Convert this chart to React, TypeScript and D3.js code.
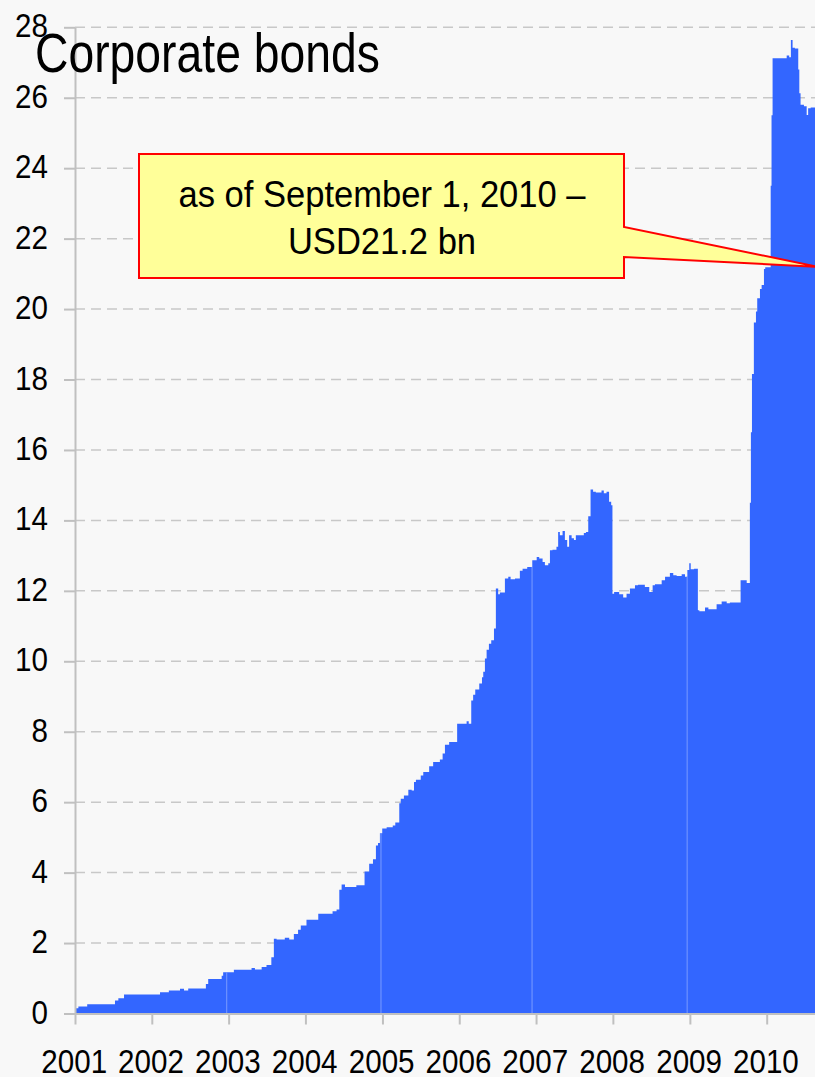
import React, { useEffect, useRef } from 'react';
import * as d3 from 'd3';

// Corporate bonds outstanding, USD bn (step series)

const dates = [
  '2001-01-01', '2001-01-17', '2001-02-28', '2001-07-10', '2001-07-26', '2001-08-22',
  '2002-02-09', '2002-03-23', '2002-05-15', '2002-06-03', '2002-06-23', '2002-09-15',
  '2002-09-26', '2002-11-29', '2002-12-06', '2003-01-26', '2003-04-20', '2003-05-06',
  '2003-06-07', '2003-06-30', '2003-07-23', '2003-08-04', '2003-08-17', '2003-09-25',
  '2003-10-16', '2003-11-07', '2003-11-27', '2003-12-10', '2004-01-06', '2004-03-02',
  '2004-05-09', '2004-05-28', '2004-06-10', '2004-06-21', '2004-07-07', '2004-08-30',
  '2004-10-08', '2004-10-30', '2004-11-17', '2004-12-01', '2004-12-11', '2004-12-20',
  '2004-12-31', '2005-01-21', '2005-02-19', '2005-03-03', '2005-03-22', '2005-03-29',
  '2005-04-13', '2005-05-04', '2005-05-20', '2005-05-31', '2005-06-09', '2005-07-02',
  '2005-07-14', '2005-08-11', '2005-08-30', '2005-10-01', '2005-10-14', '2005-10-25',
  '2005-11-14', '2005-12-22', '2006-02-05', '2006-02-15', '2006-02-27', '2006-03-08',
  '2006-03-18', '2006-04-06', '2006-04-19', '2006-04-25', '2006-05-03', '2006-05-11',
  '2006-05-22', '2006-06-02', '2006-06-15', '2006-06-24', '2006-07-05', '2006-07-13',
  '2006-08-06', '2006-08-22', '2006-09-02', '2006-09-23', '2006-10-16', '2006-10-29',
  '2006-11-20', '2006-12-14', '2007-01-04', '2007-01-16', '2007-02-01', '2007-02-12',
  '2007-02-28', '2007-03-08', '2007-03-20', '2007-04-08', '2007-04-16', '2007-04-24',
  '2007-05-07', '2007-05-18', '2007-05-29', '2007-06-07', '2007-06-19', '2007-06-30',
  '2007-07-09', '2007-08-16', '2007-08-26', '2007-09-06', '2007-09-17', '2007-09-29',
  '2007-10-12', '2007-11-08', '2007-11-19', '2007-12-02', '2007-12-14', '2007-12-24',
  '2007-12-30', '2008-01-07', '2008-01-31', '2008-02-19', '2008-03-06', '2008-03-22',
  '2008-04-15', '2008-04-30', '2008-06-01', '2008-06-22', '2008-07-08', '2008-07-19',
  '2008-08-20', '2008-09-05', '2008-09-28', '2008-10-14', '2008-10-30', '2008-11-23',
  '2008-12-09', '2008-12-20', '2008-12-29', '2009-01-05', '2009-01-21', '2009-02-08',
  '2009-02-15', '2009-03-14', '2009-03-30', '2009-05-08', '2009-06-01', '2009-06-25',
  '2009-07-10', '2009-08-30', '2009-09-28', '2009-10-13', '2009-10-18', '2009-10-23',
  '2009-11-01', '2009-11-11', '2009-11-17', '2009-11-30', '2009-12-08', '2009-12-19',
  '2009-12-25', '2010-01-20', '2010-01-24', '2010-01-29', '2010-04-06', '2010-04-18',
  '2010-04-26', '2010-05-04', '2010-05-15', '2010-05-31', '2010-06-05', '2010-06-11',
  '2010-06-27', '2010-07-10', '2010-07-17', '2010-07-29', '2010-09-01',
];

const values = [
  0.15, 0.2, 0.26, 0.37, 0.43, 0.54,
  0.6, 0.65, 0.7, 0.65, 0.71, 0.84,
  0.98, 1.07, 1.17, 1.24, 1.29, 1.25,
  1.32, 1.38, 1.6, 2.12, 2.1, 2.15,
  2.1, 2.26, 2.38, 2.5, 2.66, 2.83,
  2.9, 2.95, 3.51, 3.66, 3.59, 3.64,
  4.03, 4.25, 4.38, 4.77, 4.84, 5.12,
  5.25, 5.29, 5.34, 5.42, 5.97, 6.1,
  6.19, 6.35, 6.33, 6.57, 6.64, 6.76,
  6.86, 7.02, 7.14, 7.21, 7.38, 7.63,
  7.71, 8.23, 8.3, 8.23, 8.89, 9.05,
  9.2, 9.37, 9.55, 9.7, 10.08, 10.33,
  10.5, 10.6, 10.93, 12.07, 11.9, 11.95,
  12.35, 12.4, 12.33, 12.35, 12.57, 12.63,
  12.68, 12.87, 12.96, 12.92, 12.82, 12.73,
  12.78, 13.15, 13.17, 13.25, 13.67, 13.58,
  13.7, 13.44, 13.25, 13.58, 13.49, 13.44,
  13.58, 13.64, 13.67, 14.12, 14.88, 14.81,
  14.79, 14.85, 14.77, 14.81, 14.53, 14.43,
  11.92, 11.97, 11.9, 11.81, 11.92, 12.07,
  12.16, 12.17, 12.11, 11.97, 12.16, 12.19,
  12.3, 12.4, 12.51, 12.44, 12.42, 12.47,
  12.4, 12.59, 12.78, 12.61, 12.63, 11.45,
  11.42, 11.53, 11.48, 11.62, 11.7, 11.65,
  11.67, 12.3, 12.22, 14.5, 16.5, 18.16,
  19.62, 19.93, 20.31, 20.57, 20.68, 21.14,
  21.19, 23.5, 25.5, 27.12, 27.2, 27.15,
  27.64, 27.42, 27.4, 26.8, 26.13, 25.8,
  25.76, 25.51, 25.7, 25.72, 21.2,
];

// faint seams in the filled area
const seamDates = ['2002-12-23', '2004-12-25', '2006-12-13', '2008-12-19'];

const yTicks = [0, 2, 4, 6, 8, 10, 12, 14, 16, 18, 20, 22, 24, 26, 28];
const yearTicks = ['2001', '2002', '2003', '2004', '2005', '2006', '2007', '2008', '2009', '2010'];

const title = 'Corporate bonds';
const noteLines = ['as of September 1, 2010 –', 'USD21.2 bn'];
const noteDate = '2010-09-01';
const noteValue = 21.2;

const FONT = '"Liberation Sans", Arial, sans-serif';
const TICK_SX = 0.87; // narrow look for the labels

const App = () => {
  const svgRef = useRef<SVGSVGElement>(null);

  useEffect(() => {
    const width = 815;
    const height = 1077;
    const parse = d3.timeParse('%Y-%m-%d');

    const svg = d3.select(svgRef.current);
    svg.selectAll('*').remove();

    const data = dates.map((d, i) => ({ date: parse(d) as Date, value: values[i] }));

    const x = d3
      .scaleTime()
      .domain([new Date(2001, 0, 1), new Date(2011, 0, 1)])
      .range([75, 843.5]);

    const y = d3.scaleLinear().domain([0, 28]).range([1013.5, 27.3]);

    svg.append('rect').attr('width', width).attr('height', height).attr('fill', '#f8f8f8');

    // dashed gridlines
    svg.append('g')
      .selectAll('line')
      .data(yTicks.filter(t => t > 0))
      .enter()
      .append('line')
      .attr('x1', 75)
      .attr('x2', width)
      .attr('y1', d => y(d))
      .attr('y2', d => y(d))
      .attr('stroke', '#c8c8c8')
      .attr('stroke-width', 1.5)
      .attr('stroke-dasharray', '10,6');

    // area
    const area = d3
      .area<{ date: Date; value: number }>()
      .x(d => x(d.date))
      .y0(y(0))
      .y1(d => y(d.value))
      .curve(d3.curveStepAfter);

    svg.append('path').datum(data).attr('d', area).attr('fill', '#3366ff');

    // seams
    const bisect = d3.bisector((d: { date: Date }) => d.date).right;
    svg.append('g')
      .selectAll('line')
      .data(seamDates.map(s => parse(s) as Date))
      .enter()
      .append('line')
      .attr('x1', d => x(d))
      .attr('x2', d => x(d))
      .attr('y1', y(0))
      .attr('y2', d => y(data[bisect(data, d) - 1].value))
      .attr('stroke', '#7a9bff')
      .attr('stroke-width', 1);

    // y axis
    const yAxis = svg.append('g')
      .attr('transform', 'translate(75,0)')
      .call(d3.axisLeft(y).tickValues(yTicks).tickSize(11).tickSizeOuter(0).tickPadding(16));
    yAxis.select('.domain').attr('stroke', '#c0c0c0').attr('stroke-width', 2);
    yAxis.selectAll('.tick line').attr('stroke', '#c0c0c0').attr('stroke-width', 2);
    yAxis.selectAll('.tick text')
      .attr('x', -27 / TICK_SX)
      .attr('dy', 9.5)
      .attr('transform', `scale(${TICK_SX},1)`)
      .attr('fill', '#000')
      .style('font-family', FONT)
      .style('font-size', '34px');

    // x axis
    const xAxis = svg.append('g')
      .attr('transform', `translate(0,${y(0)})`)
      .call(
        d3.axisBottom(x)
          .tickValues(yearTicks.map(t => new Date(+t, 0, 1)))
          .tickFormat(d3.timeFormat('%Y') as any)
          .tickSize(11)
          .tickSizeOuter(0)
      );
    xAxis.select('.domain').attr('stroke', '#c0c0c0').attr('stroke-width', 2);
    xAxis.selectAll('.tick text')
      .attr('y', 59.5)
      .attr('dy', 0)
      .attr('x', -1.5)
      .attr('transform', `scale(${TICK_SX},1)`)
      .attr('fill', '#000')
      .style('font-family', FONT)
      .style('font-size', '34px');
    xAxis.selectAll('.tick line').attr('stroke', '#c0c0c0').attr('stroke-width', 2);

    // callout
    const tipX = x(parse(noteDate) as Date);
    const tipY = y(noteValue);
    const box = { x0: 139, x1: 624, y0: 154, y1: 278 };
    const callout = d3.path();
    callout.moveTo(box.x0, box.y0);
    callout.lineTo(box.x1, box.y0);
    callout.lineTo(box.x1, 227);
    callout.lineTo(tipX, tipY);
    callout.lineTo(box.x1, 257);
    callout.lineTo(box.x1, box.y1);
    callout.lineTo(box.x0, box.y1);
    callout.closePath();
    svg.append('path')
      .attr('d', callout.toString())
      .attr('fill', '#ffff99')
      .attr('stroke', '#ff0000')
      .attr('stroke-width', 2)
      .attr('stroke-linejoin', 'miter');

    svg.append('g')
      .selectAll('text')
      .data(noteLines)
      .enter()
      .append('text')
      .attr('transform', (_, i) => `translate(${(box.x0 + box.x1) / 2 + 0.5},${207 + i * 47}) scale(0.96,1)`)
      .attr('text-anchor', 'middle')
      .style('font-family', FONT)
      .style('font-size', '36px')
      .text(d => d);

    // title
    svg.append('text')
      .attr('transform', 'translate(35,72) scale(0.827,1)')
      .style('font-family', FONT)
      .style('font-size', '56px')
      .text(title);
  }, []);

  return (
    <svg
      ref={svgRef}
      width="815"
      height="1077"
      style={{ position: 'absolute', left: 0, top: 0, display: 'block' }}
    />
  );
};

export default App;
